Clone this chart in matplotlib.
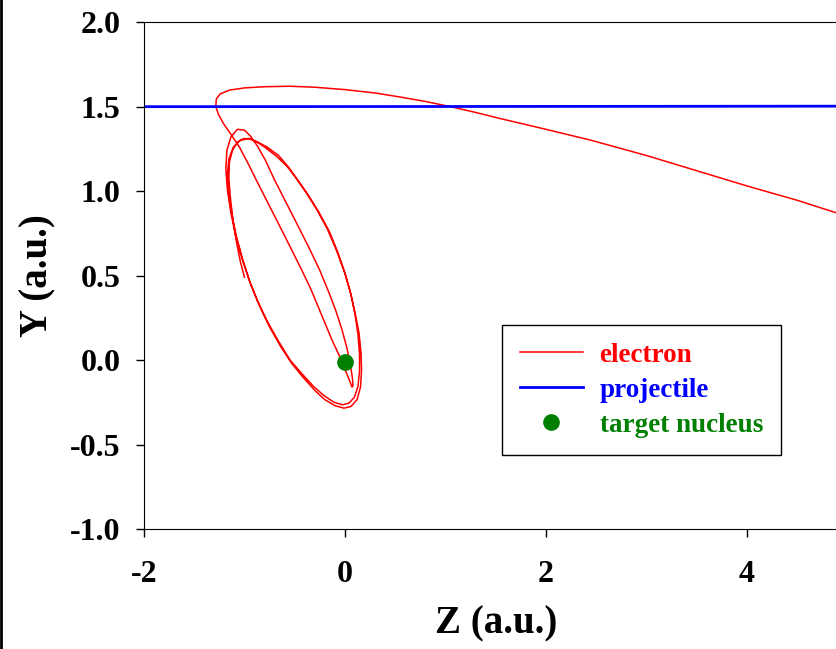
import matplotlib
matplotlib.use("Agg")
import matplotlib.pyplot as plt
from matplotlib.lines import Line2D

plt.rcParams['font.family'] = ['Liberation Serif', 'DejaVu Serif']
plt.rcParams['font.weight'] = 'bold'
plt.rcParams['axes.unicode_minus'] = False

# electron trajectory (Z, Y)
electron_z = [
    # start, first climb on the left side
    -1.00, -1.04, -1.08, -1.115, -1.14, -1.155, -1.15, -1.12, -1.07, -1.01, -0.945, -0.87,
    # first descent on the outer right side and round the bottom
    -0.78, -0.66, -0.56, -0.47, -0.37, -0.26, -0.155, -0.07, 0.005, 0.06, 0.10, 0.13,
    0.145, 0.145, 0.13, 0.095, 0.04, -0.025, -0.11, -0.21, -0.315, -0.43, -0.547,
    # second climb
    -0.66, -0.77, -0.87, -0.95, -1.02, -1.08, -1.125, -1.16, -1.17, -1.155, -1.11, -1.04,
    -0.96, -0.89,
    # second descent
    -0.80, -0.68, -0.575, -0.485, -0.385, -0.28, -0.175, -0.085, -0.005, 0.055, 0.10,
    0.14, 0.16, 0.165, 0.155, 0.12, 0.06, -0.01, -0.10, -0.20, -0.30, -0.42, -0.53,
    # third climb to the highest loop top
    -0.64, -0.75, -0.85, -0.94, -1.02, -1.085, -1.135, -1.17, -1.185, -1.175, -1.135,
    -1.07, -1.00, -0.94,
    # inner descent towards the nucleus
    -0.87, -0.79, -0.70, -0.58, -0.46, -0.35, -0.25, -0.16, -0.09, -0.03, 0.02, 0.055,
    0.075, 0.08, 0.07,
    # final climb and escape
    0.045, 0.0, -0.06, -0.13, -0.20, -0.27, -0.34, -0.42, -0.52, -0.63, -0.75, -0.87,
    -0.97, -1.05, -1.14, -1.21, -1.26, -1.285, -1.28, -1.24, -1.15, -1.00, -0.80, -0.55,
    -0.30, 0.00, 0.30, 0.55, 0.80, 1.05, 1.30, 1.55, 2.00, 2.45, 3.00, 3.50, 4.00, 4.50,
    5.00,
]
electron_y = [
    0.49, 0.58, 0.70, 0.83, 0.96, 1.07, 1.17, 1.24, 1.29, 1.31, 1.31, 1.29,
    1.262, 1.21, 1.14, 1.065, 0.98, 0.875, 0.76, 0.635, 0.505, 0.385, 0.27, 0.15,
    0.035, -0.065, -0.155, -0.22, -0.255, -0.265, -0.25, -0.21, -0.155, -0.08, 0.0,
    0.11, 0.225, 0.35, 0.47, 0.60, 0.73, 0.86, 0.99, 1.10, 1.19, 1.26, 1.30,
    1.31, 1.295,
    1.26, 1.205, 1.145, 1.075, 0.99, 0.89, 0.775, 0.65, 0.52, 0.40, 0.28,
    0.16, 0.04, -0.06, -0.16, -0.235, -0.275, -0.285, -0.27, -0.235, -0.18, -0.10, -0.02,
    0.08, 0.195, 0.32, 0.45, 0.59, 0.73, 0.87, 1.01, 1.13, 1.24, 1.32,
    1.365, 1.36, 1.325,
    1.265, 1.18, 1.065, 0.925, 0.785, 0.655, 0.53, 0.40, 0.29, 0.18, 0.07, -0.03,
    -0.11, -0.155, -0.16,
    -0.12, -0.055, 0.03, 0.12, 0.22, 0.32, 0.42, 0.52, 0.64, 0.77, 0.91, 1.05,
    1.17, 1.26, 1.34, 1.40, 1.455, 1.50, 1.545, 1.575, 1.597, 1.61, 1.617, 1.62,
    1.614, 1.60, 1.58, 1.556, 1.53, 1.499, 1.465, 1.428, 1.365, 1.30, 1.21, 1.12, 1.03,
    0.945, 0.85,
]

# projectile path
projectile_z = [-2.0, 1.0, 5.0]
projectile_y = [1.499, 1.500, 1.502]

# target nucleus
nucleus_z = [0.0]
nucleus_y = [-0.01]

x_ticks = [-2, 0, 2, 4]
y_ticks = [-1.0, -0.5, 0.0, 0.5, 1.0, 1.5, 2.0]


fig = plt.figure(figsize=(8.36, 6.49), dpi=100)
ax = fig.add_axes([0.1722, 0.1849, 0.8415, 0.7812])   # right edge runs past the figure

ax.plot(electron_z, electron_y, color='red', lw=1.1, label='electron')
ax.plot(projectile_z, projectile_y, color='blue', lw=2.0, label='projectile')
ax.plot(nucleus_z, nucleus_y, 'o', color='green', ms=11, label='target nucleus', zorder=5)

ax.set_xlim(-2, 5)
ax.set_ylim(-1.0, 2.0)
ax.set_xticks(x_ticks)
ax.set_yticks(y_ticks)
ax.set_yticklabels([f'{v:.1f}' for v in y_ticks])
ax.tick_params(axis='both', direction='out', length=6, width=1, labelsize=23)
ax.tick_params(axis='y', pad=11)
ax.tick_params(axis='x', pad=16)

ax.set_xlabel('Z (a.u.)', fontsize=28, fontweight='bold', labelpad=12)
ax.set_ylabel('Y (a.u.)', fontsize=28, fontweight='bold', labelpad=10)

leg = ax.legend(loc='upper left', bbox_to_anchor=(0.509, 0.4024), fontsize=19.5,
                frameon=True, fancybox=False, edgecolor='black', handlelength=2.35,
                labelspacing=0.37, borderpad=0.65, borderaxespad=0.0,
                handletextpad=0.6, framealpha=1.0)
leg.get_frame().set_linewidth(1.0)
for text, col in zip(leg.get_texts(), ['red', 'blue', 'green']):
    text.set_color(col)

# thin border line on the left edge of the picture
fig.add_artist(Line2D([0.0015, 0.0015], [0, 1], transform=fig.transFigure, color='black', lw=2))

fig.savefig('out.png', dpi=100)
